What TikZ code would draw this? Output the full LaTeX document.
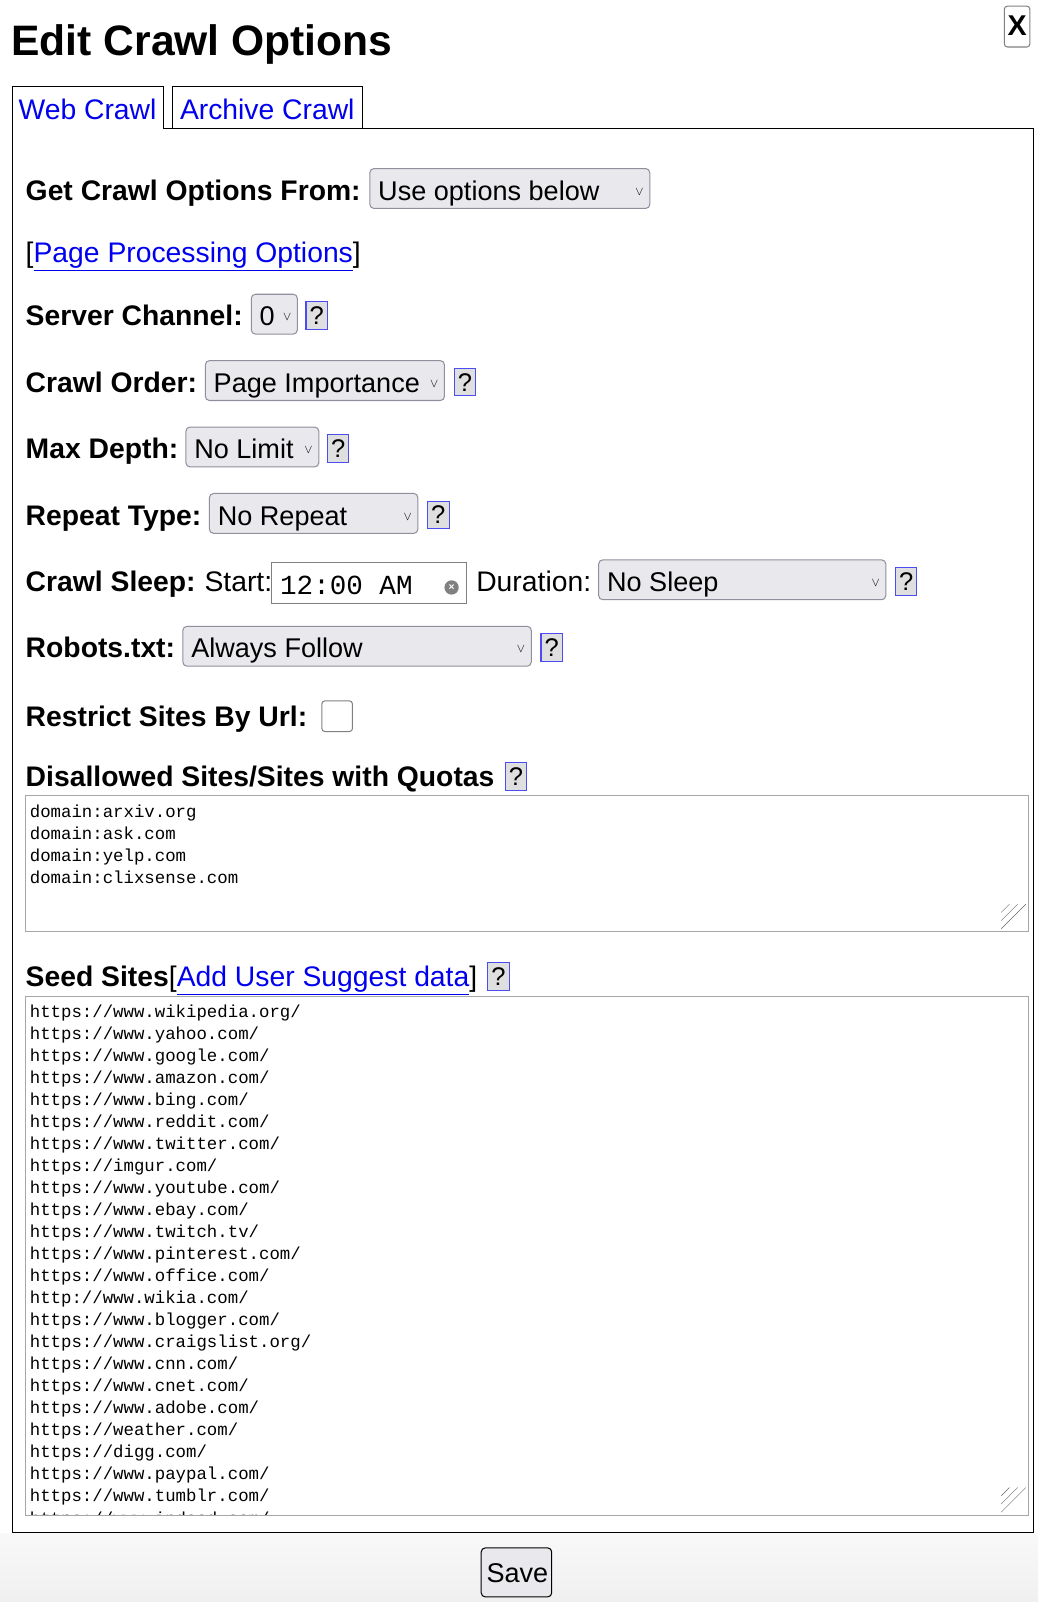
\documentclass[tikz,border=0pt]{standalone}
\usepackage{fontspec}
\setmainfont{Liberation Sans}
\setmonofont{Liberation Mono}
\definecolor{lnk}{RGB}{0,0,238}
\definecolor{selfill}{RGB}{233,233,237}
\definecolor{selborder}{RGB}{143,143,157}
\tikzset{
 lbl/.style={anchor=base west,inner sep=0pt,font=\fontsize{27.7}{30}\selectfont\bfseries},
 txt/.style={anchor=base west,inner sep=0pt,font=\fontsize{27.7}{30}\selectfont},
 stxt/.style={anchor=base west,inner sep=0pt,font=\fontsize{26.5}{30}\selectfont},
 sel/.style={draw=selborder,fill=selfill,rounded corners=4pt,line width=1pt},
 hlp/.style={draw=lnk!70,fill=gray!25,line width=1pt,minimum width=21pt,minimum height=27pt,inner sep=0pt,font=\fontsize{25}{26}\selectfont},
 mono/.style={anchor=base west,inner sep=0pt,font=\fontsize{17}{20}\ttfamily},
 area/.style={draw=gray!70,line width=1pt}
}
\newcommand{\selbox}[6]{% name x1 x2 ybase text
 \draw[sel] (#2,#4-31) rectangle (#3,#4+8);
 \node[stxt] (#1) at (#2+8,#4) {#5};
 \node[anchor=base,inner sep=0pt,font=\fontsize{12}{12}\selectfont] (#1v) at (#3-10,#4-5) {#6};}
\newcommand{\helpb}[3]{\node[hlp] (#1) at (#2,#3) {?};}
\begin{document}
\begin{tikzpicture}[x=1pt,y=-1pt]
\useasboundingbox (0,0) rectangle (1016,1568);
\fill[white] (0,0) rectangle (1016,1568);
\shade[top color=gray!5,bottom color=gray!12] (0,1501) rectangle (1016,1568);
\node[anchor=base west,inner sep=0pt,font=\fontsize{41.7}{44}\selectfont\bfseries] (title) at (11,54) {Edit Crawl Options};
\draw[gray,rounded corners=3pt,line width=1pt] (983,6) rectangle (1008,46);
\node[inner sep=0pt,font=\fontsize{28}{30}\selectfont\bfseries] (close) at (995.5,25) {X};
% tabs
\draw[line width=1pt] (1012,126) -- (160,126) -- (160,85) -- (12,85) -- (12,1500) -- (1012,1500) -- cycle;
\draw[line width=1pt] (169,126) -- (169,85) -- (355,85) -- (355,126);
\draw[white,line width=1.5pt] (13,126) -- (159,126);
\node[txt,text=lnk] (tab1) at (18,117) {Web Crawl};
\node[txt,text=lnk] (tab2) at (176,117) {Archive Crawl};
% rows
\node[lbl] (l1) at (25,196) {Get Crawl Options From:};
\selbox{s1}{362}{636}{196}{Use options below}{$\vee$}
\node[txt] (link1) at (25,257) {[\textcolor{lnk}{\underline{Page Processing Options}}]};
\node[lbl] (l2) at (25,319) {Server Channel:};
\selbox{s2}{246}{291}{319}{0}{$\vee$}
\helpb{h2}{310}{309}
\node[lbl] (l3) at (25,384) {Crawl Order:};
\selbox{s3}{201}{435}{384}{Page Importance}{$\vee$}
\helpb{h3}{455}{374}
\node[lbl] (l4) at (25,449) {Max Depth:};
\selbox{s4}{182}{312}{449}{No Limit}{$\vee$}
\helpb{h4}{331}{439}
\node[lbl] (l5) at (25,514) {Repeat Type:};
\selbox{s5}{205}{409}{514}{No Repeat}{$\vee$}
\helpb{h5}{429}{504}
\node[lbl] (l6) at (25,579) {Crawl Sleep:};
\node[txt] (l6b) at (200,579) {Start:};
\draw[gray,line width=1pt] (266,551) rectangle (457,591);
\node[anchor=base west,inner sep=0pt,font=\fontsize{27}{28}\ttfamily] (time) at (274,582) {12:00 AM};
\fill[gray] (442,575) circle (7);
\node[white,inner sep=0pt,font=\fontsize{10}{10}\selectfont\bfseries] (tx) at (442,575) {×};
\node[txt] (dur) at (466,579) {Duration:};
\selbox{s6}{586}{867}{579}{No Sleep}{$\vee$}
\helpb{h6}{887}{569}
\node[lbl] (l7) at (25,644) {Robots.txt:};
\selbox{s7}{179}{520}{644}{Always Follow}{$\vee$}
\helpb{h7}{540}{634}
\node[lbl] (l8) at (25,711) {Restrict Sites By Url:};
\draw[gray,rounded corners=3pt,line width=1pt] (315,686) rectangle (345,716);
\node[lbl] (l9) at (25,770) {Disallowed Sites/Sites with Quotas};
\helpb{h9}{505}{760}
\draw[area] (25,779) rectangle (1007,912);
\foreach \t [count=\i from 0] in {domain:arxiv.org,domain:ask.com,domain:yelp.com,domain:clixsense.com}
  \node[mono] (d\i) at (29,800+21.5*\i) {\t};
\foreach \k in {0,1,2} \draw[gray!80!black] (1004-8*\k,885) -- (980,909-8*\k);
\node[lbl] (l10) at (25,966) {Seed Sites\mdseries[\textcolor{lnk}{\underline{Add User Suggest data}}]};
\helpb{h10}{488}{956}
\draw[area] (25,975) rectangle (1007,1483);
\begin{scope}
\clip (26,976) rectangle (1006,1482);
\foreach \t [count=\i from 0] in {https://www.wikipedia.org/,https://www.yahoo.com/,https://www.google.com/,https://www.amazon.com/,https://www.bing.com/,https://www.reddit.com/,https://www.twitter.com/,https://imgur.com/,https://www.youtube.com/,https://www.ebay.com/,https://www.twitch.tv/,https://www.pinterest.com/,https://www.office.com/,http://www.wikia.com/,https://www.blogger.com/,https://www.craigslist.org/,https://www.cnn.com/,https://www.cnet.com/,https://www.adobe.com/,https://weather.com/,https://digg.com/,https://www.paypal.com/,https://www.tumblr.com/,https://www.indeed.com/}
  \node[mono] (u\i) at (29,996+21.55*\i) {\t};
\end{scope}
\foreach \k in {0,1,2} \draw[gray!80!black] (1004-8*\k,1456) -- (980,1480-8*\k);
\draw[fill=selfill,draw=black,rounded corners=4pt,line width=1pt] (471,1515) rectangle (540,1563);
\node[stxt] (save) at (476,1549) {Save};
\end{tikzpicture}
\end{document}
